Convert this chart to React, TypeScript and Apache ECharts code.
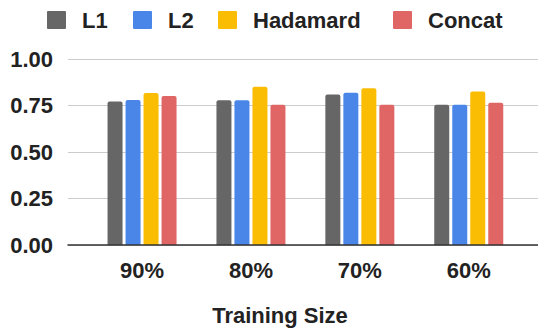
import React, { useEffect, useRef } from "react";
import * as echarts from "echarts";

const categories = ["90%", "80%", "70%", "60%"];
const seriesNames = ["L1", "L2", "Hadamard", "Concat"];
const l1 = [0.773, 0.78, 0.811, 0.755];
const l2 = [0.781, 0.78, 0.82, 0.755];
const hadamard = [0.818, 0.852, 0.844, 0.827];
const concat = [0.802, 0.755, 0.755, 0.766];
const yTicks = [0, 0.25, 0.5, 0.75, 1];
const colors = ["#666666", "#4a86e8", "#fbbc04", "#e06666"];
const xTitle = "Training Size";

// left edge of each legend swatch
const legendLefts = [47, 133, 218, 393];

const FONT = "'Liberation Sans', Arial, sans-serif";

export default function App() {
  const ref = useRef<HTMLDivElement>(null);

  useEffect(() => {
    if (!ref.current) return;
    const chart = echarts.init(ref.current, undefined, { renderer: "svg" });
    const values = [l1, l2, hadamard, concat];
    const top = 59.3;
    const height = 185.7;

    const legendItems = seriesNames.flatMap((name, i) => [
      {
        type: "rect",
        shape: { x: legendLefts[i], y: 11, width: 19, height: 18, r: 1 },
        style: { fill: colors[i] },
      },
      {
        type: "text",
        x: legendLefts[i] + 35,
        y: 20,
        style: {
          text: name,
          fontFamily: FONT,
          fontWeight: "bold",
          fontSize: 22,
          fill: "#222222",
          align: "left",
          verticalAlign: "middle",
        },
      },
    ]);

    chart.setOption({
      animation: false,
      backgroundColor: "#ffffff",
      textStyle: { fontFamily: FONT },
      grid: [
        { left: 68, right: 0, top, height },
        { left: 87.6, width: 435.6, top, height },
      ],
      xAxis: [
        {
          type: "category",
          gridIndex: 0,
          data: categories,
          axisLine: { show: true, lineStyle: { color: "#333333", width: 1.5 } },
          axisTick: { show: false },
          axisLabel: { show: false },
          z: 5,
        },
        {
          type: "category",
          gridIndex: 1,
          data: categories,
          axisLine: { show: false },
          axisTick: { show: false },
          axisLabel: {
            margin: 14,
            fontFamily: FONT,
            fontWeight: "bold",
            fontSize: 22,
            color: "#222222",
          },
        },
      ],
      yAxis: [
        {
          type: "value",
          gridIndex: 0,
          min: yTicks[0],
          max: yTicks[yTicks.length - 1],
          interval: yTicks[1] - yTicks[0],
          axisLine: { show: false },
          axisTick: { show: false },
          axisLabel: {
            margin: 15,
            fontFamily: FONT,
            fontWeight: "bold",
            fontSize: 22,
            color: "#222222",
            formatter: (v: number) => v.toFixed(2),
          },
          splitLine: { lineStyle: { color: "#cccccc", width: 1.2 } },
        },
        {
          type: "value",
          gridIndex: 1,
          min: yTicks[0],
          max: yTicks[yTicks.length - 1],
          show: false,
          splitLine: { show: false },
        },
      ],
      graphic: [
        ...legendItems,
        {
          type: "text",
          x: 280,
          y: 304,
          style: {
            text: xTitle,
            fontFamily: FONT,
            fontWeight: "bold",
            fontSize: 22,
            fill: "#222222",
            align: "center",
          },
        },
      ],
      series: seriesNames.map((name, i) => ({
        name,
        type: "bar",
        xAxisIndex: 1,
        yAxisIndex: 1,
        data: values[i],
        barWidth: 15,
        barGap: "20%",
        itemStyle: { color: colors[i], borderRadius: [2, 2, 0, 0] },
      })),
    });

    return () => chart.dispose();
  }, []);

  return (
    <div
      ref={ref}
      style={{ position: "fixed", left: 0, top: 0, width: 538, height: 330 }}
    />
  );
}
